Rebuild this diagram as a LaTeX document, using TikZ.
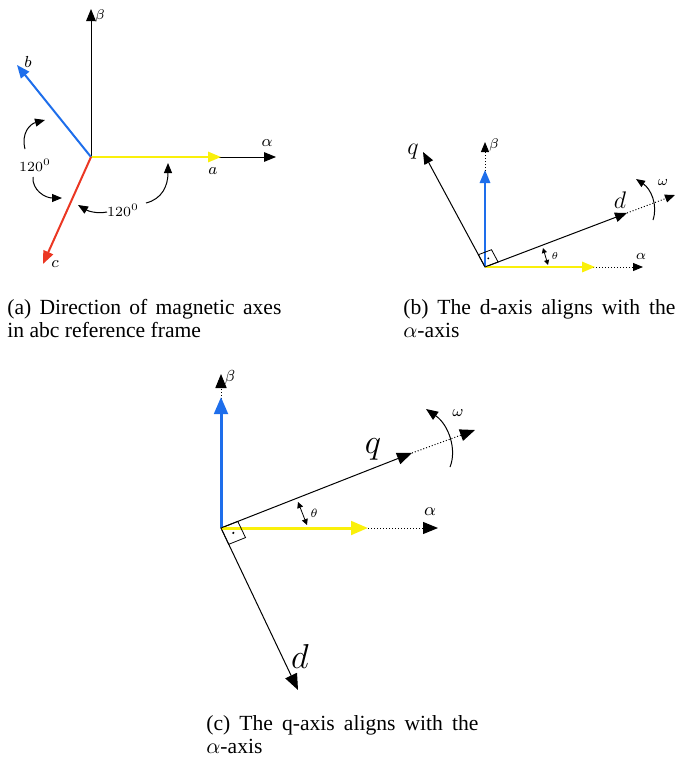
\documentclass[tikz,border=0pt]{standalone}
\usepackage{fontspec}
\setmainfont{Liberation Serif}
\usetikzlibrary{arrows.meta}
\definecolor{phasea}{RGB}{250,240,10}
\definecolor{phaseb}{RGB}{30,110,235}
\definecolor{phasec}{RGB}{235,55,35}

\begin{document}
\begin{tikzpicture}[
    x=0.5pt, y=-0.5pt,
    tip/.style={-{Triangle[length=#1, width'=0pt 0.8]}},
    axis/.style={line width=0.5pt, tip=#1},
    dotaxis/.style={line width=0.5pt, densely dotted, tip=#1},
    phase/.style={line width=#1, tip=4*#1+2.5pt},
    turn/.style={line width=0.5pt, tip=#1},
    lbl/.style={inner sep=0pt, font=\fontsize{#1}{#1}\selectfont},
    rbox/.style={line width=0.4pt},
    caption/.style={anchor=north west, inner sep=0pt, text width=#1, align=justify, font=\fontsize{10.8}{11.6}\selectfont}
]
\useasboundingbox (0,0) rectangle (691,760);

% (a) abc frame
\coordinate (Oa) at (91,157);
\coordinate (betaA) at (91,9);
\coordinate (alphaA) at (276,157);
\coordinate (aA) at (221,157);
\coordinate (bA) at (17,65);
\coordinate (cA) at (43,264);
\draw[axis=6pt] (Oa) -- (betaA);
\draw[axis=6pt] (Oa) -- (alphaA);
\draw[phase=1pt, phasea] (Oa) -- (aA);
\draw[phase=1pt, phaseb] (Oa) -- (bA);
\draw[phase=1pt, phasec] (Oa) -- (cA);
\node[lbl=7.5] (betaAl) at (100,16) {$\beta$};
\node[lbl=8.5] (alphaAl) at (267,143) {$\alpha$};
\node[lbl=8] (aAl) at (213,171) {$a$};
\node[lbl=8] (bAl) at (28,62) {$b$};
\node[lbl=8.5] (cAl) at (55,264) {$c$};
\node[lbl=7.5] (angL) at (35,165) {$120^0$};
\node[lbl=7.5] (angB) at (123,210) {$120^0$};
\coordinate (angL1) at (25,149);
\coordinate (angL2) at (45,120);
\coordinate (angL3) at (33,177);
\coordinate (angL4) at (62,198);
\coordinate (angB1) at (107,212);
\coordinate (angB2) at (78,205);
\coordinate (angB3) at (146,203);
\coordinate (angB4) at (168,163);
\draw[turn=5pt] (angL1) .. controls (21,133) and (30,124) .. (angL2);
\draw[turn=5pt] (angL3) .. controls (32,190) and (45,198) .. (angL4);
\draw[turn=5pt] (angB1) .. controls (97,214) and (88,211) .. (angB2);
\draw[turn=5pt] (angB3) .. controls (162,199) and (168,186) .. (angB4);

% (b) d-axis on alpha
\coordinate (Ob) at (485,267);
\coordinate (betaB) at (485,142);
\coordinate (blueB) at (485,170);
\coordinate (alphaB) at (643,267);
\coordinate (yelB) at (595,267);
\coordinate (qB) at (423,152);
\coordinate (dB) at (627,213);
\coordinate (dB2) at (675,195);
\draw[dotaxis=5pt] (Ob) -- (betaB);
\draw[dotaxis=5pt] (Ob) -- (alphaB);
\draw[dotaxis=5pt] (dB) -- (dB2);
\draw[axis=6pt] (Ob) -- (qB);
\draw[axis=6pt] (Ob) -- (dB);
\draw[phase=1pt, phaseb] (Ob) -- (blueB);
\draw[phase=1pt, phasea] (Ob) -- (yelB);
\draw[rbox] (Ob) -- (498.1,262.0) -- (491.5,249.7) -- (478.4,254.7) -- cycle;
\fill (488.3,258.4) circle (0.5pt);
\node[lbl=7] (betaBl) at (494,145) {$\beta$};
\node[lbl=7] (alphaBl) at (641,256) {$\alpha$};
\node[lbl=12.5] (qBl) at (413,152) {$q$};
\node[lbl=12] (dBl) at (620,200) {$d$};
\node[lbl=7] (omegaBl) at (663,182) {$\omega$};
\node[lbl=5] (thetaBl) at (555,256) {$\theta$};
\coordinate (omB1) at (653,220);
\coordinate (omB2) at (636,179);
\draw[turn=4.5pt] (omB1) .. controls (658,205) and (651,189) .. (omB2);
\coordinate (thB1) at (543,248);
\coordinate (thB2) at (548,265);
\draw[line width=0.4pt, {Triangle[length=2.5pt,width=2.5pt]}-{Triangle[length=2.5pt,width=2.5pt]}] (thB1) -- (thB2);

% (c) q-axis on alpha
\coordinate (Oc) at (221,528);
\coordinate (betaC) at (221,374);
\coordinate (blueC) at (221,397);
\coordinate (alphaC) at (438,528);
\coordinate (yelC) at (368,528);
\coordinate (qC) at (412,453);
\coordinate (qC2) at (475,430);
\coordinate (dC) at (298,690);
\draw[dotaxis=7pt] (Oc) -- (betaC);
\draw[dotaxis=7.5pt] (Oc) -- (alphaC);
\draw[dotaxis=7.5pt] (qC) -- (qC2);
\draw[axis=7.5pt] (Oc) -- (qC);
\draw[axis=8pt] (Oc) -- (dC);
\draw[phase=1.5pt, phaseb] (Oc) -- (blueC);
\draw[phase=1.5pt, phasea] (Oc) -- (yelC);
\draw[rbox] (Oc) -- (237.8,521.4) -- (245.5,537.6) -- (228.7,544.3) -- cycle;
\fill (233.3,532.9) circle (0.6pt);
\node[lbl=8.5] (betaCl) at (230,377) {$\beta$};
\node[lbl=9] (alphaCl) at (430,512) {$\alpha$};
\node[lbl=16] (qCl) at (373,449) {$q$};
\node[lbl=16] (dCl) at (300,656) {$d$};
\node[lbl=8.5] (omegaCl) at (458,413) {$\omega$};
\node[lbl=6] (thetaCl) at (314,513) {$\theta$};
\coordinate (omC1) at (450,467);
\coordinate (omC2) at (426,409);
\draw[turn=6pt] (omC1) .. controls (457,450) and (449,425) .. (omC2);
\coordinate (thC1) at (298,502);
\coordinate (thC2) at (307,525);
\draw[line width=0.4pt, {Triangle[length=3pt,width=3pt]}-{Triangle[length=3pt,width=3pt]}] (thC1) -- (thC2);

% captions
\node[caption=137pt] (capA) at (7,299) {(a) Direction of magnetic axes\linebreak in abc reference frame};
\node[caption=136pt] (capB) at (403,299) {(b) The d-axis aligns with the\linebreak $\alpha$-axis};
\node[caption=136pt] (capC) at (206,715) {(c) The q-axis aligns with the\linebreak $\alpha$-axis};
\end{tikzpicture}
\end{document}
